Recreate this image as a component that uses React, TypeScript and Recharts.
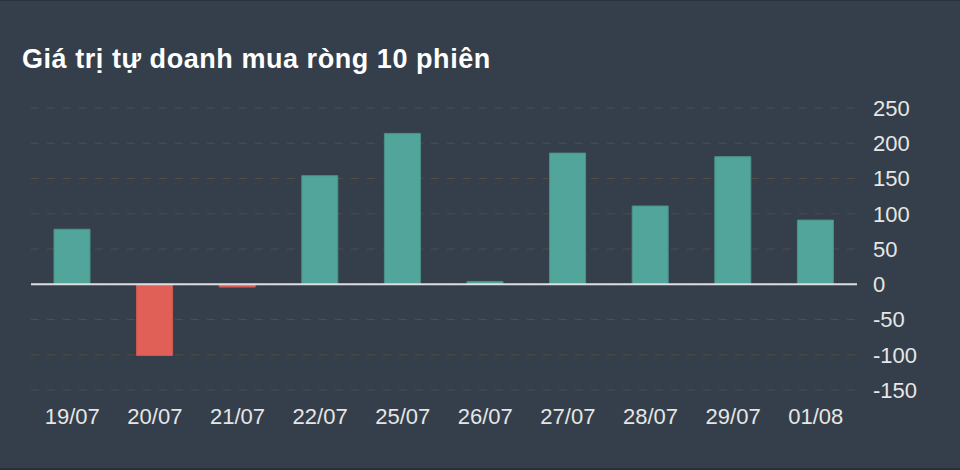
import { BarChart, Bar, XAxis, YAxis, CartesianGrid, ReferenceLine, Cell } from 'recharts';

const DATES = ['19/07', '20/07', '21/07', '22/07', '25/07', '26/07', '27/07', '28/07', '29/07', '01/08'];
const NET_BUY = [78, -101, -4, 154, 214, 4, 186, 111, 181, 91];
const Y_TICKS = [-150, -100, -50, 0, 50, 100, 150, 200, 250];

const UP = '#52a59a';
const DOWN = '#e05f57';
const BG = '#343f4b';

const chartData = DATES.map((date, i) => ({ date, value: NET_BUY[i] }));

export default function App() {
  return (
    <div
      style={{
        position: 'fixed',
        top: 0,
        left: 0,
        width: 960,
        height: 470,
        background: BG,
        boxSizing: 'border-box',
        borderTop: '1px solid #2a323c',
        borderBottom: '2px solid #262e37',
        fontFamily: '"Liberation Sans", Arial, Helvetica, sans-serif',
      }}
    >
      <div
        style={{
          position: 'absolute',
          left: 22,
          top: 43,
          fontSize: 27,
          fontWeight: 'bold',
          color: '#ffffff',
          letterSpacing: 0.55,
        }}
      >
        Giá trị tự doanh mua ròng 10 phiên
      </div>
      <div style={{ position: 'absolute', left: 0, top: -1 }}>
        <BarChart
          width={960}
          height={470}
          data={chartData}
          margin={{ top: 108, right: 0, left: 31, bottom: 50 }}
          barSize={36}
        >
          <CartesianGrid vertical={false} stroke="#524d46" strokeDasharray="8 8" />
          <XAxis
            dataKey="date"
            axisLine={false}
            tickLine={false}
            tickMargin={12}
            height={30}
            tick={{ fontSize: 22, fill: '#e6e6e6' }}
            interval={0}
          />
          <YAxis
            orientation="right"
            domain={[-150, 250]}
            ticks={Y_TICKS}
            axisLine={false}
            tickLine={false}
            tickMargin={10}
            width={103}
            tick={{ fontSize: 22, fill: '#e6e6e6' }}
            interval={0}
          />
          <ReferenceLine y={0} stroke="#dedede" strokeWidth={2} />
          <Bar dataKey="value" isAnimationActive={false} strokeWidth={1}>
            {chartData.map((d) => (
              <Cell
                key={d.date}
                fill={d.value >= 0 ? UP : DOWN}
                stroke={d.value >= 0 ? '#4b9287' : '#d45850'}
              />
            ))}
          </Bar>
        </BarChart>
      </div>
    </div>
  );
}
